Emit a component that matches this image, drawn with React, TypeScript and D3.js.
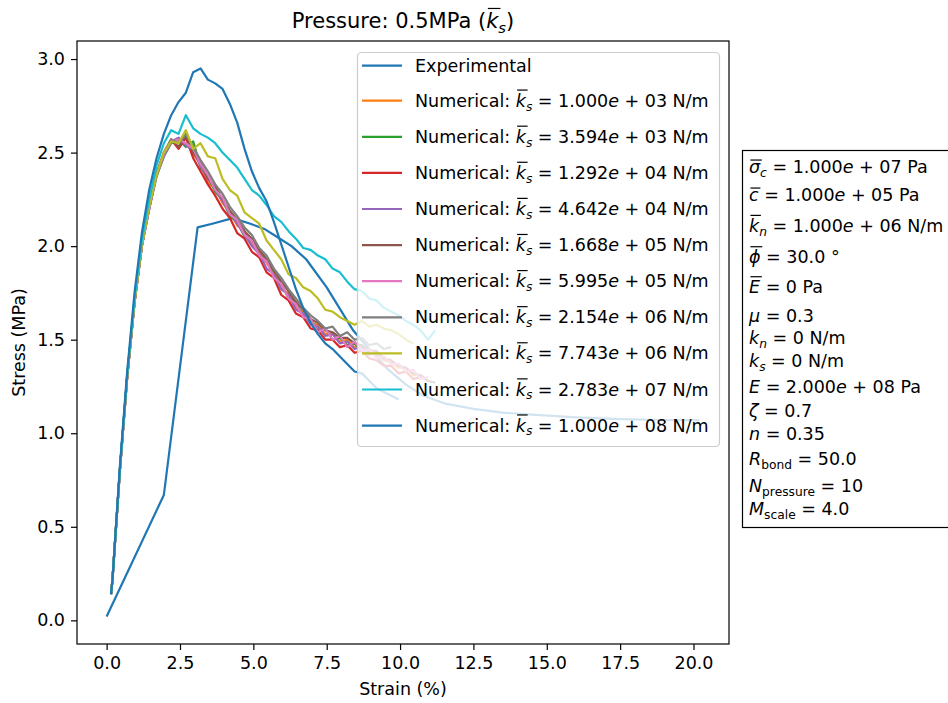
import React, { useEffect, useRef } from 'react';
import * as d3 from 'd3';

// strain sample points shared by the numerical runs (%)
const strainGrid = [0.15, 0.2, 0.45, 0.7, 0.95, 1.2, 1.45, 1.7, 1.95, 2.2, 2.45, 2.7, 2.95, 3.2, 3.45, 3.7, 3.95, 4.2, 4.45, 4.7, 4.95, 5.2, 5.45, 5.7, 5.95, 6.2, 6.45, 6.7, 6.95, 7.2, 7.45, 7.7, 7.95, 8.2, 8.45, 8.7, 8.95, 9.2, 9.45, 9.7, 9.95, 10.2, 10.45, 10.7, 10.95, 11.2];

// experimental curve
const expStrain = [0, 1.95, 3.1, 3.6, 4.3, 4.9, 5.4, 5.8, 6.3, 6.8, 7.5, 8.4, 9.0, 9.6, 10.2, 10.8, 11.5, 12.5, 13.5, 14.5, 16, 17.5, 19, 20.2];
const expStress = [0.02, 0.67, 2.1, 2.12, 2.15, 2.12, 2.09, 2.05, 2.0, 1.93, 1.78, 1.55, 1.44, 1.34, 1.26, 1.2, 1.16, 1.13, 1.11, 1.1, 1.085, 1.075, 1.07, 1.07];

// numerical runs, stress (MPa) on strainGrid
const stressKs1 = [0.14, 0.22, 0.8, 1.3, 1.7, 2.0, 2.21, 2.38, 2.49, 2.56, 2.55, 2.58, 2.49, 2.44, 2.34, 2.31, 2.23, 2.18, 2.11, 2.08, 2.01, 1.97, 1.91, 1.86, 1.77, 1.75, 1.67, 1.65, 1.59, 1.58, 1.53, 1.53, 1.49, 1.5, 1.46, 1.47, 1.43, 1.42, 1.39, 1.38, 1.35, 1.35, 1.31, 1.31, 1.28];
const stressKs2 = [0.14, 0.22, 0.8, 1.3, 1.7, 2.0, 2.2, 2.37, 2.48, 2.55, 2.57, 2.53, 2.56, 2.42, 2.37, 2.29, 2.25, 2.16, 2.13, 2.05, 2.03, 1.95, 1.93, 1.84, 1.8, 1.72, 1.7, 1.62, 1.61, 1.55, 1.56, 1.5, 1.51, 1.47, 1.48, 1.44, 1.45, 1.41];
const stressKs3 = [0.14, 0.22, 0.8, 1.3, 1.7, 2.0, 2.2, 2.38, 2.49, 2.57, 2.52, 2.58, 2.47, 2.4, 2.33, 2.27, 2.2, 2.15, 2.07, 2.04, 1.97, 1.94, 1.86, 1.83, 1.74, 1.71, 1.64, 1.62, 1.56, 1.55, 1.5, 1.5, 1.46, 1.47, 1.43, 1.44, 1.4, 1.39, 1.36, 1.36, 1.32, 1.33, 1.29, 1.3];
const stressKs4 = [0.14, 0.22, 0.8, 1.3, 1.7, 2.0, 2.2, 2.38, 2.48, 2.56, 2.58, 2.54, 2.51, 2.43, 2.36, 2.31, 2.24, 2.18, 2.12, 2.06, 2.0, 1.96, 1.88, 1.85, 1.77, 1.74, 1.66, 1.64, 1.58, 1.57, 1.52, 1.53, 1.48, 1.49, 1.45, 1.46, 1.42, 1.43, 1.4];
const stressKs5 = [0.14, 0.22, 0.8, 1.3, 1.7, 2.0, 2.21, 2.39, 2.5, 2.57, 2.53, 2.59, 2.5, 2.45, 2.36, 2.32, 2.25, 2.19, 2.14, 2.08, 2.04, 1.98, 1.93, 1.87, 1.81, 1.76, 1.7, 1.66, 1.61, 1.59, 1.55, 1.54, 1.51, 1.51, 1.48, 1.47, 1.44, 1.44, 1.4, 1.39, 1.36, 1.35, 1.32, 1.31, 1.28, 1.27];
const stressKs6 = [0.14, 0.22, 0.8, 1.3, 1.7, 2.0, 2.2, 2.38, 2.49, 2.56, 2.57, 2.55, 2.52, 2.44, 2.38, 2.3, 2.26, 2.17, 2.14, 2.06, 2.03, 1.95, 1.92, 1.83, 1.8, 1.72, 1.69, 1.62, 1.61, 1.54, 1.56, 1.5, 1.52, 1.46, 1.49, 1.44, 1.45, 1.4, 1.41, 1.37, 1.37, 1.33, 1.34, 1.29, 1.3];
const stressKs7 = [0.14, 0.22, 0.8, 1.3, 1.7, 2.0, 2.21, 2.38, 2.5, 2.57, 2.55, 2.6, 2.53, 2.46, 2.4, 2.33, 2.28, 2.21, 2.16, 2.1, 2.06, 1.99, 1.95, 1.88, 1.83, 1.77, 1.72, 1.67, 1.63, 1.6, 1.56, 1.57, 1.52, 1.54, 1.5, 1.51, 1.47, 1.48, 1.45, 1.46];
const stressKs8 = [0.14, 0.22, 0.8, 1.3, 1.7, 2.0, 2.21, 2.38, 2.5, 2.56, 2.55, 2.62, 2.52, 2.55, 2.48, 2.47, 2.36, 2.3, 2.27, 2.18, 2.15, 2.12, 2.03, 1.98, 1.93, 1.85, 1.83, 1.78, 1.76, 1.72, 1.66, 1.65, 1.62, 1.6, 1.58, 1.6, 1.57, 1.58, 1.56, 1.55, 1.53, 1.5, 1.48];
const stressKs9 = [0.14, 0.22, 0.8, 1.31, 1.72, 2.03, 2.25, 2.43, 2.55, 2.62, 2.6, 2.7, 2.63, 2.6, 2.58, 2.55, 2.5, 2.46, 2.42, 2.36, 2.3, 2.27, 2.22, 2.16, 2.13, 2.08, 2.04, 1.99, 1.98, 1.95, 1.93, 1.88, 1.86, 1.81, 1.77, 1.76, 1.72, 1.71, 1.67, 1.65, 1.63, 1.6, 1.58, 1.55, 1.5, 1.55];
const stressKs10 = [0.14, 0.22, 0.82, 1.33, 1.75, 2.07, 2.3, 2.47, 2.6, 2.7, 2.77, 2.82, 2.93, 2.95, 2.89, 2.87, 2.84, 2.76, 2.66, 2.52, 2.4, 2.31, 2.24, 2.13, 2.01, 1.89, 1.77, 1.67, 1.59, 1.53, 1.48, 1.45, 1.41, 1.37, 1.33, 1.32, 1.28, 1.24, 1.22, 1.2, 1.18];

const numericalStress = [stressKs1, stressKs2, stressKs3, stressKs4, stressKs5, stressKs6, stressKs7, stressKs8, stressKs9, stressKs10];
const ksLabels = ['1.000e+03', '3.594e+03', '1.292e+04', '4.642e+04', '1.668e+05', '5.995e+05', '2.154e+06', '7.743e+06', '2.783e+07', '1.000e+08'];

const xTicks = [0, 2.5, 5, 7.5, 10, 12.5, 15, 17.5, 20];
const yTicks = [0, 0.5, 1, 1.5, 2, 2.5, 3];

// parameter box
const paramValues = ['1.000e+07', '1.000e+05', '1.000e+06', '30.0', '0', '0.3', '0', '0', '2.000e+08', '0.7', '0.35', '50.0', '10', '4.0'];
const paramUnits = [' Pa', ' Pa', ' N/m', ' °', ' Pa', '', ' N/m', ' N/m', ' Pa', '', '', '', '', ''];

const colors = ['#1f77b4', '#ff7f0e', '#2ca02c', '#d62728', '#9467bd', '#8c564b', '#e377c2', '#7f7f7f', '#bcbd22', '#17becf', '#1f77b4'];

type Part = { t: string; it?: boolean; sub?: boolean; bar?: number };

// "1.000e+07" -> mathtext-like pieces
const sci = (s: string): Part[] => {
  const m = s.match(/^([\d.]+)e\+(\d+)$/);
  if (!m) return [{ t: s }];
  return [{ t: m[1] }, { t: 'e', it: true }, { t: ' + ' }, { t: m[2] }];
};

const App = () => {
  const ref = useRef<SVGSVGElement>(null);

  useEffect(() => {
    const W = 948;
    const H = 703;
    const margin = { top: 41, right: 219, bottom: 59, left: 77 };
    const width = W - margin.left - margin.right;
    const height = H - margin.top - margin.bottom;
    const fs = 17.5;

    const svg = d3.select(ref.current);
    svg.selectAll('*').remove();

    // draws a line of text with italic, subscript and overlined pieces
    const mathText = (parent: any, x: number, y: number, parts: Part[], size: number, anchor = 'start') => {
      const text = parent.append('text')
        .attr('x', x).attr('y', y)
        .attr('font-size', size)
        .attr('text-anchor', anchor)
        .style('white-space', 'pre');
      const drop = size * 0.22;
      let down = false;
      const spans = parts.map(p => {
        const ts = text.append('tspan').text(p.t);
        if (p.it) ts.attr('font-style', 'italic');
        if (p.sub) {
          ts.attr('font-size', size * 0.7);
          if (!down) { ts.attr('dy', drop); down = true; }
        } else if (down) {
          ts.attr('dy', -drop);
          down = false;
        }
        return ts;
      });
      parts.forEach((p, i) => {
        if (!p.bar) return;
        const node = spans[i].node() as SVGTSpanElement;
        const x0 = node.getStartPositionOfChar(0).x;
        const w = node.getComputedTextLength();
        const by = y - p.bar * size;
        parent.append('line')
          .attr('x1', x0 + size * 0.08).attr('x2', x0 + w + size * 0.1)
          .attr('y1', by).attr('y2', by)
          .attr('stroke', '#000').attr('stroke-width', 1.2);
      });
      return text;
    };

    const x = d3.scaleLinear().domain([-1.01, 21.21]).range([0, width]);
    const y = d3.scaleLinear().domain([-0.1265, 3.0965]).range([height, 0]);

    const g = svg.append('g').attr('transform', `translate(${margin.left},${margin.top})`);

    const line = d3.line<[number, number]>()
      .x(d => x(d[0]))
      .y(d => y(d[1]));

    // experimental
    g.append('path')
      .datum(expStrain.map((s, i) => [s, expStress[i]] as [number, number]))
      .attr('d', line)
      .attr('fill', 'none')
      .attr('stroke', colors[0])
      .attr('stroke-width', 2.2)
      .attr('stroke-linejoin', 'round');

    // numerical runs
    numericalStress.forEach((ys, k) => {
      g.append('path')
        .datum(ys.map((v, i) => [strainGrid[i], v] as [number, number]))
        .attr('d', line)
        .attr('fill', 'none')
        .attr('stroke', colors[k + 1])
        .attr('stroke-width', 2.2)
        .attr('stroke-linejoin', 'round');
    });

    // axes
    g.append('g')
      .attr('transform', `translate(0,${height})`)
      .call(d3.axisBottom(x).tickValues(xTicks).tickFormat(d => (+d).toFixed(1)).tickSize(6).tickPadding(7))
      .call(a => a.select('.domain').remove())
      .call(a => a.selectAll('line').attr('stroke-width', 1.2))
      .call(a => a.selectAll('text').attr('font-size', fs).attr('font-family', 'DejaVu Sans').attr('fill', '#000'));

    g.append('g')
      .call(d3.axisLeft(y).tickValues(yTicks).tickFormat(d => (+d).toFixed(1)).tickSize(6).tickPadding(6))
      .call(a => a.select('.domain').remove())
      .call(a => a.selectAll('line').attr('stroke-width', 1.2))
      .call(a => a.selectAll('text').attr('font-size', fs).attr('font-family', 'DejaVu Sans').attr('fill', '#000'));

    g.append('rect')
      .attr('width', width)
      .attr('height', height)
      .attr('fill', 'none')
      .attr('stroke', '#000')
      .attr('stroke-width', 1.2);

    // labels and title
    svg.append('text')
      .attr('x', margin.left + width / 2)
      .attr('y', 695)
      .attr('text-anchor', 'middle')
      .attr('font-size', fs)
      .text('Strain (%)');

    svg.append('text')
      .attr('transform', `translate(25,${margin.top + height / 2}) rotate(-90)`)
      .attr('text-anchor', 'middle')
      .attr('font-size', fs)
      .text('Stress (MPa)');

    mathText(svg, margin.left + width / 2, 28, [
      { t: 'Pressure: 0.5MPa (' },
      { t: 'k', it: true, bar: 0.93 },
      { t: 's', it: true, sub: true },
      { t: ')' },
    ], 21, 'middle');

    // legend
    const leg = svg.append('g');
    leg.append('rect')
      .attr('x', 357.5).attr('y', 52.5)
      .attr('width', 362).attr('height', 394)
      .attr('rx', 4)
      .attr('fill', '#fff').attr('fill-opacity', 0.8)
      .attr('stroke', '#cccccc').attr('stroke-width', 1.2);

    const rowY = (i: number) => (i === 0 ? 65.7 : 100.7 + 36.1 * (i - 1));
    ['Experimental', ...ksLabels].forEach((lab, i) => {
      const cy = rowY(i);
      leg.append('line')
        .attr('x1', 362).attr('x2', 402)
        .attr('y1', cy).attr('y2', cy)
        .attr('stroke', colors[i]).attr('stroke-width', 2.2);
      if (i === 0) {
        leg.append('text').attr('x', 415).attr('y', cy + 6).attr('font-size', fs).text(lab);
      } else {
        mathText(leg, 415, cy + 6, [
          { t: 'Numerical: ' },
          { t: 'k', it: true, bar: 0.95 },
          { t: 's', it: true, sub: true },
          { t: ' = ' },
          ...sci(lab),
          { t: ' N/m' },
        ], fs);
      }
    });

    // parameter box
    const box = svg.append('g');
    box.append('rect')
      .attr('x', 742.5).attr('y', 150.5)
      .attr('width', 240).attr('height', 377)
      .attr('fill', '#fff')
      .attr('stroke', '#000').attr('stroke-width', 1.2);

    const symbols: Part[][] = [
      [{ t: 'σ', it: true, bar: 0.74 }, { t: 'c', it: true, sub: true }],
      [{ t: 'c', it: true, bar: 0.74 }],
      [{ t: 'k', it: true, bar: 0.95 }, { t: 'n', it: true, sub: true }],
      [{ t: 'ϕ', it: true, bar: 0.93 }],
      [{ t: 'E', it: true, bar: 0.93 }],
      [{ t: 'μ', it: true }],
      [{ t: 'k', it: true }, { t: 'n', it: true, sub: true }],
      [{ t: 'k', it: true }, { t: 's', it: true, sub: true }],
      [{ t: 'E', it: true }],
      [{ t: 'ζ', it: true }],
      [{ t: 'n', it: true }],
      [{ t: 'R', it: true }, { t: 'bond', sub: true }],
      [{ t: 'N', it: true }, { t: 'pressure', sub: true }],
      [{ t: 'M', it: true }, { t: 'scale', sub: true }],
    ];
    const boxBaselines = [173, 201, 232, 263, 293, 322, 344, 367, 393, 417, 440, 465, 492, 515];

    paramValues.forEach((v, i) => {
      mathText(box, 749, boxBaselines[i], [
        ...symbols[i],
        { t: ' = ' },
        ...sci(v),
        { t: paramUnits[i] },
      ], fs);
    });
  }, []);

  return (
    <svg
      ref={ref}
      width={948}
      height={703}
      style={{ position: 'absolute', left: 0, top: 0, background: '#fff' }}
      fontFamily="DejaVu Sans"
    />
  );
};

export default App;
